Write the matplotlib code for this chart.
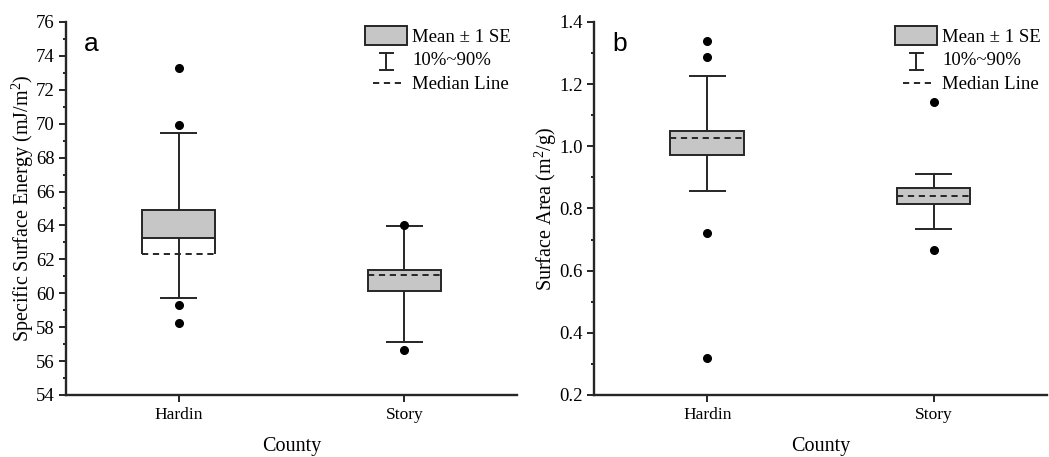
import matplotlib
matplotlib.use("Agg")
import matplotlib.pyplot as plt
from matplotlib.patches import Rectangle
from matplotlib.lines import Line2D
from matplotlib.legend_handler import HandlerBase
from matplotlib.ticker import MultipleLocator, FormatStrFormatter

plt.rcParams['font.family'] = ['Liberation Serif', 'DejaVu Serif']
plt.rcParams['mathtext.fontset'] = 'custom'
plt.rcParams['mathtext.rm'] = 'Liberation Serif'

counties = ['Hardin', 'Story']

# panel a: specific surface energy (mJ/m2)
sse_box_lo = [63.28, 60.13]
sse_box_hi = [64.93, 61.35]
sse_median = [62.29, 61.09]
sse_p10 = [59.72, 57.14]
sse_p90 = [69.45, 63.96]
sse_outliers = [[73.27, 69.92, 59.32, 58.24], [64.02, 56.65]]

# panel b: surface area (m2/g)
sa_box_lo = [0.971, 0.814]
sa_box_hi = [1.049, 0.865]
sa_median = [1.026, 0.841]
sa_p10 = [0.857, 0.733]
sa_p90 = [1.226, 0.911]
sa_outliers = [[1.339, 1.286, 0.720, 0.318], [1.143, 0.667]]

EDGE = '#262626'
FILL = '#c6c6c6'
LW = 1.4
DASH = (0, (3.2, 2.4))


class HandlerIBeam(HandlerBase):
    def create_artists(self, legend, orig_handle, xdescent, ydescent,
                       width, height, fontsize, trans):
        cx = width / 2 - xdescent
        cap = width * 0.155
        y0 = -ydescent - 1
        y1 = height - ydescent - 2.5
        arts = [Line2D([cx, cx], [y0, y1], color=EDGE, lw=LW),
                Line2D([cx - cap, cx + cap], [y0, y0], color=EDGE, lw=LW),
                Line2D([cx - cap, cx + cap], [y1, y1], color=EDGE, lw=LW)]
        for a in arts:
            a.set_transform(trans)
        return arts


class HandlerShortDash(HandlerBase):
    def create_artists(self, legend, orig_handle, xdescent, ydescent,
                       width, height, fontsize, trans):
        y = height / 2 - ydescent
        ln = Line2D([width * 0.19 - xdescent, width * 0.84 - xdescent], [y, y],
                    color=EDGE, lw=LW, linestyle=DASH)
        ln.set_transform(trans)
        return [ln]


def draw_panel(ax, lo, hi, med, p10, p90, outl, ylim, major, minor, ylabel, tag):
    pos = [1, 2]
    bw = 0.325
    cw = 0.165
    for i, x in enumerate(pos):
        ax.vlines(x, p10[i], p90[i], color=EDGE, lw=LW, zorder=1)
        ax.hlines([p10[i], p90[i]], x - cw / 2, x + cw / 2, color=EDGE, lw=LW, zorder=1)
        ax.bar(x, hi[i] - lo[i], bottom=lo[i], width=bw, color=FILL,
               edgecolor=EDGE, linewidth=LW, zorder=2)
        if med[i] < lo[i]:
            ax.vlines([x - bw / 2, x + bw / 2], med[i], lo[i], color=EDGE, lw=LW, zorder=2)
        elif med[i] > hi[i]:
            ax.vlines([x - bw / 2, x + bw / 2], hi[i], med[i], color=EDGE, lw=LW, zorder=2)
        ax.hlines(med[i], x - bw / 2, x + bw / 2, color=EDGE, lw=LW,
                  linestyle=DASH, zorder=3)
        ax.plot([x] * len(outl[i]), outl[i], 'o', color='black', ms=5.5, zorder=4)

    ax.set_xlim(0.5, 2.5)
    ax.set_ylim(*ylim)
    ax.set_xticks(pos)
    ax.set_xticklabels(counties, fontsize=12.5)
    ax.yaxis.set_major_locator(MultipleLocator(major))
    ax.yaxis.set_minor_locator(MultipleLocator(minor))
    ax.tick_params(axis='y', labelsize=13.5, length=5, width=LW, color=EDGE, pad=3)
    ax.tick_params(axis='y', which='minor', length=2.5, width=LW, color=EDGE)
    ax.tick_params(axis='x', length=5, width=LW, color=EDGE, pad=4)
    for s in ['top', 'right']:
        ax.spines[s].set_visible(False)
    for s in ['left', 'bottom']:
        ax.spines[s].set_linewidth(1.7)
        ax.spines[s].set_color(EDGE)
    ax.set_xlabel('County', fontsize=14.5, labelpad=10)
    ax.set_ylabel(ylabel, fontsize=14.5, labelpad=0)
    ax.text(0.04, 0.922, tag, transform=ax.transAxes, fontsize=19,
            family=['Liberation Sans', 'DejaVu Sans'], va='baseline', ha='left')

    h_box = Rectangle((0, 0), 1, 1, facecolor=FILL, edgecolor=EDGE, linewidth=LW)
    h_whisk = Line2D([], [])
    h_med = Line2D([], [], linestyle='--')
    ax.legend([h_box, h_whisk, h_med], ['Mean ± 1 SE', '10%~90%', 'Median Line'],
              handler_map={h_whisk: HandlerIBeam(), h_med: HandlerShortDash()},
              loc='upper right', bbox_to_anchor=(1.012, 1.02), frameon=False,
              fontsize=13.5, handlelength=2.25, handleheight=1.2,
              handletextpad=0.27, labelspacing=0.2, borderpad=0.1)


fig = plt.figure(figsize=(10.49, 4.57), dpi=100)
ax1 = fig.add_axes([0.0629, 0.1357, 0.430, 0.8162])
ax2 = fig.add_axes([0.5663, 0.1357, 0.4317, 0.8162])

draw_panel(ax1, sse_box_lo, sse_box_hi, sse_median, sse_p10, sse_p90, sse_outliers,
           (54, 76), 2, 1, 'Specific Surface Energy (mJ/m$^{2}$)', 'a')
draw_panel(ax2, sa_box_lo, sa_box_hi, sa_median, sa_p10, sa_p90, sa_outliers,
           (0.2, 1.4), 0.2, 0.1, 'Surface Area (m$^{2}$/g)', 'b')
ax2.yaxis.set_major_formatter(FormatStrFormatter('%.1f'))

fig.savefig('out.png', dpi=100)
